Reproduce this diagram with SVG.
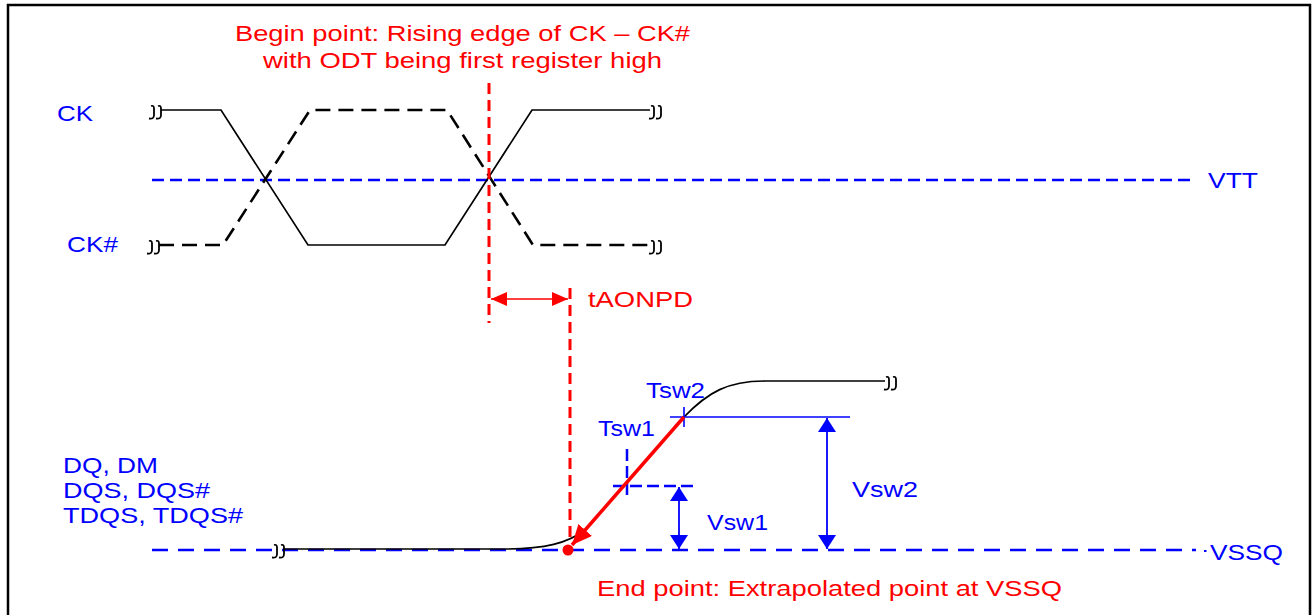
<svg xmlns="http://www.w3.org/2000/svg" xmlns:xlink="http://www.w3.org/1999/xlink" width="1313" height="615" viewBox="0 0 1313 615">
<style>
text{font-family:"Liberation Sans",Arial,sans-serif;font-size:22px}
.blue{fill:#0000FF}
.red{fill:#FF0000}
.sig{fill:none;stroke:#000;stroke-width:1.7}
.sigd{fill:none;stroke:#000;stroke-width:2.6;stroke-dasharray:15 8}
.brk{fill:none;stroke:#000;stroke-width:1.8}
.ref{fill:none;stroke:#0000FF;stroke-width:2.5;stroke-dasharray:12 6}
.refl{fill:none;stroke:#0000FF;stroke-width:2.7;stroke-dasharray:16 10}
.rdash{fill:none;stroke:#FF0000;stroke-width:3;stroke-dasharray:11 6}
.bthin{fill:none;stroke:#0000FF;stroke-width:1.6}
.bdash{fill:none;stroke:#0000FF;stroke-width:2.5;stroke-dasharray:12 5}
</style>
<defs>
<g id="brkSym"><path class="brk" d="M3,-5 Q6,-6 6,-2.5 L6,4 Q6,8.5 1,7.5 M10,-5 Q13,-6 13,-2.5 L13,4 Q13,8.5 8,7.5"/></g>
<marker id="ahRed" markerUnits="userSpaceOnUse" markerWidth="18" markerHeight="14" refX="16" refY="7" orient="auto-start-reverse"><path d="M0,0 L16,7 L0,14 Z" fill="#FF0000"/></marker>
<marker id="ahRedBig" markerUnits="userSpaceOnUse" markerWidth="22" markerHeight="18" refX="20" refY="9" orient="auto"><path d="M0,0 L20,9 L0,18 Z" fill="#FF0000"/></marker>
<marker id="ahBlue" markerUnits="userSpaceOnUse" markerWidth="16" markerHeight="18" refX="14" refY="9" orient="auto-start-reverse"><path d="M0,0 L14,9 L0,18 Z" fill="#0000FF"/></marker>
</defs>
<rect x="8" y="5" width="1302" height="620" fill="#fff" stroke="#000" stroke-width="2.5"/>

<g id="refLines">
<line class="ref" x1="152" y1="180" x2="1190" y2="180"/>
<text class="blue" x="1208" y="188" textLength="50" lengthAdjust="spacingAndGlyphs">VTT</text>
<line class="refl" x1="152" y1="550" x2="1196" y2="550"/>
<line x1="1204" y1="551" x2="1206.5" y2="551" stroke="#0000FF" stroke-width="2"/>
<text class="blue" x="1210" y="560" textLength="73" lengthAdjust="spacingAndGlyphs">VSSQ</text>
</g>

<g id="ck">
<text class="blue" x="57" y="121" textLength="36" lengthAdjust="spacingAndGlyphs">CK</text>
<use xlink:href="#brkSym" x="148" y="111"/>
<path class="sig" d="M161,110 L221,110 L308,245 L445,245 L532,110 L650,110"/>
<use xlink:href="#brkSym" x="648" y="111"/>
</g>

<g id="ckb">
<text class="blue" x="67" y="252" textLength="51" lengthAdjust="spacingAndGlyphs">CK#</text>
<use xlink:href="#brkSym" x="146" y="246"/>
<path class="sigd" d="M159,245 L223,245 L310,110 L447,110 L533,245 L650,245"/>
<use xlink:href="#brkSym" x="648" y="246"/>
</g>

<g id="dq">
<text class="blue" x="63" y="473" textLength="95" lengthAdjust="spacingAndGlyphs">DQ, DM</text>
<text class="blue" x="63" y="498" textLength="147" lengthAdjust="spacingAndGlyphs">DQS, DQS#</text>
<text class="blue" x="63" y="523" textLength="180" lengthAdjust="spacingAndGlyphs">TDQS, TDQS#</text>
<use xlink:href="#brkSym" x="271" y="550"/>
<path class="sig" d="M283,549 L505,549 C545,549 568,543 585,530 L684,417 C708,392 728,381 765,381 L885,381"/>
<use xlink:href="#brkSym" x="883" y="382"/>
</g>

<g id="beginLabel">
<text class="red" x="235" y="41" textLength="455" lengthAdjust="spacingAndGlyphs">Begin point: Rising edge of CK – CK#</text>
<text class="red" x="263" y="68" textLength="399" lengthAdjust="spacingAndGlyphs">with ODT being first register high</text>
</g>

<g id="endLabel">
<text class="red" x="597" y="596" textLength="465" lengthAdjust="spacingAndGlyphs">End point: Extrapolated point at VSSQ</text>
</g>

<g id="tsw">
<line class="bthin" x1="684" y1="407" x2="684" y2="427"/>
<line class="bthin" x1="670" y1="417" x2="850" y2="417"/>
<text class="blue" x="646" y="398" textLength="59" lengthAdjust="spacingAndGlyphs">Tsw2</text>
<line class="bdash" x1="627" y1="449" x2="627" y2="497"/>
<line class="bdash" x1="613" y1="486" x2="698" y2="486"/>
<text class="blue" x="598" y="436" textLength="57" lengthAdjust="spacingAndGlyphs">Tsw1</text>
<text class="blue" x="707" y="530" textLength="61" lengthAdjust="spacingAndGlyphs">Vsw1</text>
<text class="blue" x="852" y="497" textLength="66" lengthAdjust="spacingAndGlyphs">Vsw2</text>
<text class="red" x="588" y="307" textLength="105" lengthAdjust="spacingAndGlyphs">tAONPD</text>
</g>

<g id="connectors">
<line class="rdash" x1="489" y1="83" x2="489" y2="323"/>
<line class="rdash" x1="570" y1="288" x2="570" y2="540"/>
<line x1="491" y1="299" x2="568" y2="299" stroke="#FF0000" stroke-width="1.6" marker-start="url(#ahRed)" marker-end="url(#ahRed)"/>
<line x1="684" y1="417" x2="572" y2="545" stroke="#FF0000" stroke-width="3.5" marker-end="url(#ahRedBig)"/>
<circle cx="568" cy="550" r="5.5" fill="#FF0000"/>
<line x1="679" y1="487" x2="679" y2="549" stroke="#0000FF" stroke-width="1.8" marker-start="url(#ahBlue)" marker-end="url(#ahBlue)"/>
<line x1="827" y1="418" x2="827" y2="549" stroke="#0000FF" stroke-width="1.8" marker-start="url(#ahBlue)" marker-end="url(#ahBlue)"/>
</g>
</svg>
